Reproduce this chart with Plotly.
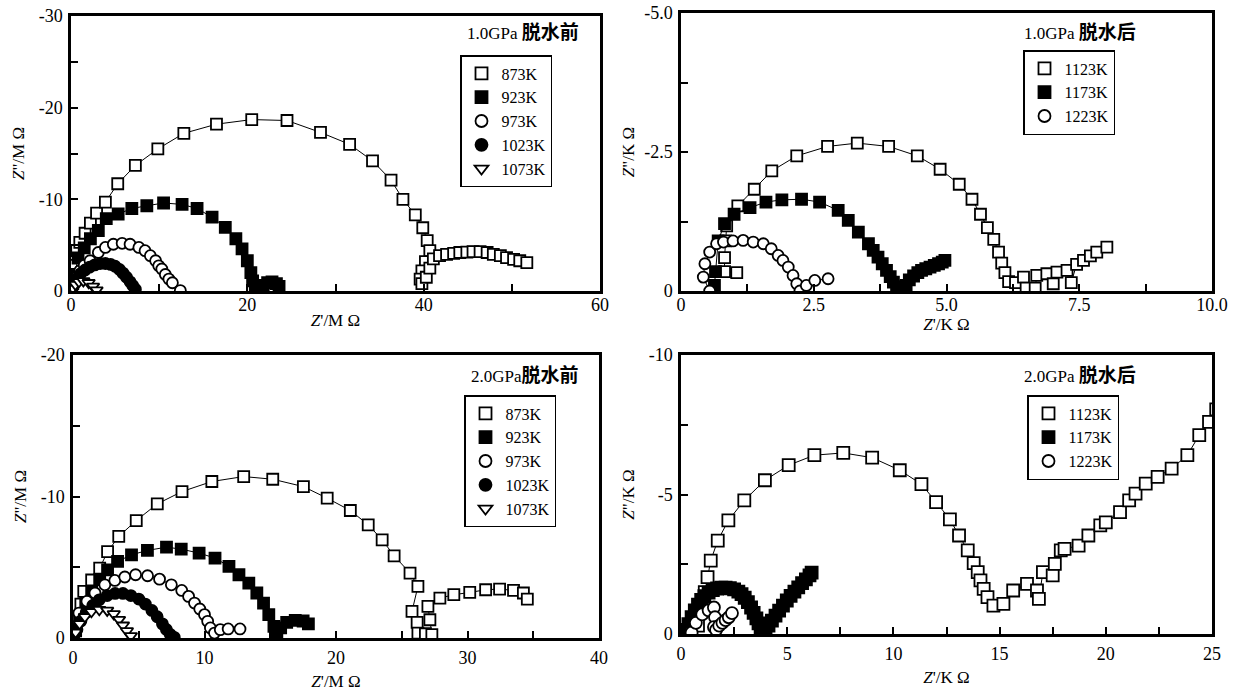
import plotly.graph_objects as go

W, H = 1233, 699
FONT = "Liberation Serif, Noto Sans CJK SC, serif"

# ---------------- Panel A: 1.0GPa 脱水前 (Z' / MΩ, Z'' / MΩ) ----------------
A873_x = [0.3, 0.4, 0.65, 1.0, 1.6, 2.2, 2.9, 3.9, 5.3, 7.3, 9.85, 12.8, 16.5, 20.5, 24.5, 28.3,
          31.6, 34.2, 36.3, 37.65, 39.05, 39.9, 40.4, 40.7, 40.2, 39.8, 39.6, 39.8, 40.3, 40.7,
          41.1, 41.8, 42.6, 43.4, 44.1, 44.9, 45.6, 46.4, 47.2, 47.9, 48.7, 49.4, 50.2, 50.9, 51.7]
A873_y = [-1.5, -2.8, -4.4, -5.3, -6.3, -7.4, -8.5, -9.7, -11.7, -13.7, -15.5, -17.2, -18.2, -18.7,
          -18.6, -17.3, -16.0, -14.2, -12.1, -10.0, -8.3, -6.9, -5.5, -4.4, -3.2, -2.2, -1.3, -0.8,
          -1.5, -2.5, -3.5, -3.85, -4.0, -4.1, -4.2, -4.25, -4.3, -4.3, -4.2, -4.0, -3.85, -3.65,
          -3.45, -3.3, -3.1]
A923_x = [0.2, 0.4, 0.8, 1.5, 2.2, 3.1, 4.0, 5.35, 6.9, 8.6, 10.5, 12.6, 14.3, 16.0, 17.5, 18.7,
          19.4, 20.0, 20.4, 20.6, 20.9, 21.3, 21.8, 22.3, 22.8, 23.3, 23.6]
A923_y = [-0.8, -1.8, -3.6, -4.7, -5.7, -6.6, -7.9, -8.4, -9.0, -9.3, -9.6, -9.45, -9.0, -8.05,
          -6.95, -5.7, -4.6, -3.3, -2.0, -1.1, -0.5, -0.3, -0.6, -0.9, -1.0, -0.8, -0.5]
A973_x = [0.15, 0.4, 0.7, 1.0, 1.5, 2.16, 3.1, 3.9, 4.8, 5.8, 6.7, 7.7, 8.4, 9.0, 9.6, 9.95,
          10.3, 10.7, 11.1, 11.5, 12.4]
A973_y = [-0.4, -1.0, -1.6, -2.2, -2.8, -3.3, -4.2, -4.75, -5.1, -5.2, -5.1, -4.75, -4.4, -3.85,
          -3.3, -2.75, -2.4, -1.8, -1.3, -0.9, -0.05]
A1023_x = [0.2, 0.4, 0.7, 1.1, 1.6, 2.1, 2.7, 3.3, 3.9, 4.5, 5.0, 5.5, 5.9, 6.3, 6.7, 7.0, 7.3]
A1023_y = [-0.4, -0.9, -1.4, -1.9, -2.3, -2.6, -2.85, -3.0, -3.0, -2.9, -2.7, -2.35, -1.95, -1.5,
           -1.0, -0.6, -0.2]
A1073_x = [0.2, 0.5, 0.9, 1.4, 2.0, 2.5, 2.9]
A1073_y = [-0.3, -0.7, -1.0, -1.1, -0.9, -0.5, -0.1]

# ---------------- Panel B: 1.0GPa 脱水后 (KΩ) ----------------
B1123_x = [1.05, 0.82, 0.82, 0.84, 0.86, 1.07, 1.38, 1.71, 2.18, 2.76, 3.32, 3.91, 4.45, 4.88,
           5.24, 5.48, 5.64, 5.77, 5.89, 5.98, 6.04, 6.1, 6.17, 6.3, 6.45, 6.5, 6.67, 6.7, 6.89,
           7.01, 7.08, 7.27, 7.35, 7.45, 7.58, 7.71, 7.83, 8.02]
B1123_y = [-0.33, -0.35, -0.6, -0.9, -1.17, -1.53, -1.83, -2.16, -2.43, -2.6, -2.66, -2.6, -2.43,
           -2.19, -1.92, -1.65, -1.38, -1.14, -0.93, -0.7, -0.5, -0.33, -0.17, -0.15, -0.25, -0.05,
           -0.05, -0.28, -0.31, -0.13, -0.34, -0.37, -0.15, -0.48, -0.55, -0.63, -0.7, -0.79]
B1173_x = [0.63, 0.65, 0.7, 0.82, 1.0, 1.3, 1.6, 1.9, 2.27, 2.61, 2.96, 3.15, 3.34, 3.53, 3.62,
           3.71, 3.79, 3.87, 3.94, 4.0, 4.06, 4.12, 4.18, 4.24, 4.3, 4.38, 4.46, 4.53, 4.61, 4.69,
           4.77, 4.85, 4.92, 4.97]
B1173_y = [-0.1, -0.35, -0.9, -1.21, -1.38, -1.5, -1.6, -1.64, -1.65, -1.6, -1.45, -1.27, -1.06,
           -0.85, -0.73, -0.61, -0.49, -0.37, -0.26, -0.16, -0.08, -0.02, 0.03, -0.1, -0.2, -0.27,
           -0.33, -0.37, -0.4, -0.43, -0.46, -0.49, -0.52, -0.55]
B1223_x = [0.54, 0.42, 0.45, 0.54, 0.67, 0.8, 0.98, 1.17, 1.36, 1.55, 1.7, 1.83, 1.92, 2.02, 2.11,
           2.18, 2.24, 2.36, 2.52, 2.77]
B1223_y = [0.0, -0.25, -0.49, -0.7, -0.85, -0.88, -0.9, -0.91, -0.88, -0.85, -0.76, -0.64, -0.55,
           -0.43, -0.28, -0.13, 0.0, -0.1, -0.19, -0.22]

# ---------------- Panel C: 2.0GPa 脱水前 (MΩ) ----------------
C873_x = [0.2, 0.4, 0.6, 0.82, 1.42, 2.03, 2.63, 3.48, 4.81, 6.41, 8.29, 10.56, 12.98, 15.19, 17.52,
          19.33, 21.09, 22.45, 23.51, 24.42, 25.63, 26.23, 25.78, 26.17, 26.23, 26.8, 27.29, 27.14,
          26.99, 27.9, 28.96, 30.17, 31.38, 32.44, 33.5, 34.25, 34.55]
C873_y = [-0.5, -1.3, -2.4, -3.3, -4.1, -4.94, -6.1, -7.18, -8.3, -9.48, -10.35, -11.06, -11.41,
          -11.22, -10.7, -9.88, -9.01, -8.0, -6.94, -5.81, -4.59, -3.65, -1.88, -1.1, -0.35, -0.3,
          -0.24, -1.29, -2.24, -2.82, -3.06, -3.22, -3.41, -3.46, -3.36, -3.18, -2.75]
C923_x = [0.2, 0.51, 0.97, 1.42, 2.03, 2.63, 3.39, 4.45, 5.66, 7.11, 8.23, 9.59, 10.8, 11.86, 12.62,
          13.37, 13.98, 14.49, 14.89, 15.28, 15.5, 15.79, 16.25, 16.9, 17.5, 17.9]
C923_y = [-0.6, -1.53, -2.47, -3.29, -4.12, -4.82, -5.41, -5.88, -6.19, -6.42, -6.28, -6.0, -5.65,
          -5.06, -4.47, -3.88, -3.18, -2.47, -1.65, -0.82, -0.35, -0.71, -1.1, -1.25, -1.2, -1.0]
C973_x = [0.15, 0.45, 1.06, 1.67, 2.42, 3.18, 3.94, 4.76, 5.67, 6.58, 7.48, 8.27, 8.79, 9.24, 9.64,
          10.0, 10.24, 10.45, 10.76, 11.2, 11.8, 12.7]
C973_y = [-0.6, -1.76, -2.59, -3.18, -3.76, -4.07, -4.31, -4.47, -4.4, -4.16, -3.76, -3.36, -2.94,
          -2.47, -2.05, -1.65, -1.18, -0.71, -0.35, -0.59, -0.64, -0.64]
C1023_x = [0.15, 0.3, 0.6, 1.0, 1.5, 2.0, 2.6, 3.2, 3.8, 4.4, 5.0, 5.5, 6.0, 6.4, 6.8, 7.1, 7.4, 7.7]
C1023_y = [-0.3, -0.6, -1.2, -1.8, -2.3, -2.7, -3.0, -3.15, -3.15, -3.0, -2.75, -2.4, -1.95, -1.5,
           -1.0, -0.6, -0.25, -0.05]
C1073_x = [0.2, 0.5, 0.9, 1.4, 2.0, 2.6, 3.1, 3.5, 3.8, 4.1, 4.4]
C1073_y = [-0.4, -1.0, -1.5, -1.85, -2.0, -1.95, -1.7, -1.3, -0.9, -0.5, -0.15]

# ---------------- Panel D: 2.0GPa 脱水后 (KΩ) ----------------
D1123_x = [0.8, 0.95, 1.05, 1.12, 1.25, 1.4, 1.73, 2.23, 2.98, 3.95, 5.07, 6.28, 7.64, 9.0, 10.3,
           11.32, 12.01, 12.66, 13.09, 13.5, 13.78, 13.97, 14.1, 14.25, 14.43, 14.71, 15.18, 15.64,
           16.29, 16.76, 16.85, 17.04, 17.5, 17.6, 17.88, 18.06, 18.72, 19.18, 19.74, 20.0, 20.67,
           21.1, 21.4, 21.88, 22.44, 23.1, 23.84, 24.4, 24.86, 25.2]
D1123_y = [-0.3, -0.8, -1.2, -1.5, -2.04, -2.63, -3.35, -4.07, -4.79, -5.51, -6.05, -6.41, -6.49,
           -6.32, -5.87, -5.37, -4.73, -4.11, -3.53, -3.0, -2.54, -2.22, -1.92, -1.62, -1.32, -1.02,
           -1.08, -1.56, -1.8, -1.56, -1.26, -2.22, -2.1, -2.51, -3.0, -3.05, -3.17, -3.53, -3.89,
           -4.0, -4.37, -4.79, -5.03, -5.39, -5.63, -5.93, -6.41, -7.13, -7.6, -8.05]
D1173_x = [0.25, 0.35, 0.5, 0.65, 0.8, 0.95, 1.1, 1.3, 1.5, 1.7, 1.9, 2.1, 2.3, 2.5, 2.7, 2.85, 3.0,
           3.15, 3.3, 3.42, 3.55, 3.65, 3.75, 3.85, 3.98, 4.12, 4.28, 4.45, 4.62, 4.8, 4.98, 5.16,
           5.34, 5.52, 5.7, 5.88, 6.05, 6.15]
D1173_y = [-0.15, -0.35, -0.6, -0.85, -1.05, -1.22, -1.36, -1.48, -1.57, -1.63, -1.66, -1.66, -1.64,
           -1.6, -1.52, -1.43, -1.3, -1.14, -0.95, -0.76, -0.56, -0.38, -0.2, -0.05, -0.12, -0.3,
           -0.48, -0.66, -0.84, -1.02, -1.2, -1.37, -1.52, -1.67, -1.82, -1.96, -2.1, -2.2]
D1223_x = [0.5, 0.7, 1.0, 1.3, 1.55, 1.6, 1.55, 1.65, 1.8, 1.95, 2.1, 2.25, 2.4]
D1223_y = [-0.05, -0.4, -0.7, -0.85, -0.95, -0.6, -0.25, -0.15, -0.3, -0.4, -0.5, -0.6, -0.75]

# ---------------- Labels ----------------
LAB_A = ["873K", "923K", "973K", "1023K", "1073K"]
LAB_B = ["1123K", "1173K", "1223K"]
CJK = '<span style="font-size:19px"><b>{}</b></span>'
TITLE_A = "1.0GPa " + CJK.format("脱水前")
TITLE_B = "1.0GPa " + CJK.format("脱水后")
TITLE_C = "2.0GPa" + CJK.format("脱水前")
TITLE_D = "2.0GPa " + CJK.format("脱水后")

STY = {
    "sq_open": dict(symbol="square", color="white"),
    "sq_fill": dict(symbol="square", color="black"),
    "ci_open": dict(symbol="circle", color="white"),
    "ci_fill": dict(symbol="circle", color="black"),
    "tri_open": dict(symbol="triangle-down", color="white"),
}
STY_A = ["sq_open", "sq_fill", "ci_open", "ci_fill", "tri_open"]
STY_B = ["sq_open", "sq_fill", "ci_open"]

fig = go.Figure()


def add_panel(idx, series, labels, styles, msize, legend_name):
    xa = "x" if idx == 1 else f"x{idx}"
    ya = "y" if idx == 1 else f"y{idx}"
    for (xs, ys), lab, st in zip(series, labels, styles):
        s = STY[st]
        fig.add_trace(go.Scatter(
            x=xs, y=ys, mode="lines+markers", xaxis=xa, yaxis=ya, showlegend=False,
            line=dict(color="black", width=1),
            marker=dict(symbol=s["symbol"], size=msize, color=s["color"],
                        line=dict(color="black", width=1.8)),
            name=lab))
    for lab, st in zip(labels, styles):
        s = STY[st]
        fig.add_trace(go.Scatter(
            x=[None], y=[None], mode="markers", xaxis=xa, yaxis=ya, name=lab,
            legend=legend_name, showlegend=True,
            marker=dict(symbol=s["symbol"], size=12, color=s["color"],
                        line=dict(color="black", width=1.8))))


add_panel(1, [(A873_x, A873_y), (A923_x, A923_y), (A973_x, A973_y), (A1023_x, A1023_y),
              (A1073_x, A1073_y)], LAB_A, STY_A, 11, "legend")
add_panel(2, [(B1123_x, B1123_y), (B1173_x, B1173_y), (B1223_x, B1223_y)], LAB_B, STY_B, 11,
          "legend2")
add_panel(3, [(C873_x, C873_y), (C923_x, C923_y), (C973_x, C973_y), (C1023_x, C1023_y),
              (C1073_x, C1073_y)], LAB_A, STY_A, 11, "legend3")
add_panel(4, [(D1123_x, D1123_y), (D1173_x, D1173_y), (D1223_x, D1223_y)], LAB_B, STY_B, 12,
          "legend4")


def px_x(a):
    return a / W


def px_y(a):
    return 1 - a / H


def xd(a, b):
    return [px_x(a), px_x(b)]


def yd(top, bot):
    return [px_y(bot), px_y(top)]


frames = {
    1: dict(x=(71, 600), y=(16, 291)),
    2: dict(x=(681, 1212), y=(13, 291)),
    3: dict(x=(73, 599), y=(355, 638)),
    4: dict(x=(681, 1212), y=(355, 634)),
}

axis_common = dict(showline=True, linecolor="black", linewidth=2.5, mirror=True, ticks="inside",
                   ticklen=7, tickwidth=1.5, tickcolor="black", showgrid=False, zeroline=False,
                   automargin=False, ticklabeloverflow="allow",
                   tickfont=dict(family=FONT, size=18, color="black"),
                   title_font=dict(family=FONT, size=17, color="black"))

xspec = {
    1: dict(range=[0, 60], tickvals=[0, 20, 40, 60], ticktext=["0", "20", "40", "60"],
            minor_vals=[10, 30, 50], title="<i>Z</i>'/M Ω", standoff=0, tls=-4),
    2: dict(range=[0, 10], tickvals=[0, 2.5, 5, 7.5, 10], ticktext=["0", "2.5", "5.0", "7.5", "10.0"],
            minor_vals=[1.25, 3.75, 6.25, 8.75], title="<i>Z</i>'/K Ω", standoff=0, tls=-4),
    3: dict(range=[0, 40], tickvals=[0, 10, 20, 30, 40], ticktext=["0", "10", "20", "30", "40"],
            minor_vals=[5, 15, 25, 35], title="<i>Z</i>'/M Ω", standoff=8, tls=2),
    4: dict(range=[0, 25], tickvals=[0, 5, 10, 15, 20, 25], ticktext=["0", "5", "10", "15", "20", "25"],
            minor_vals=[2.5, 7.5, 12.5, 17.5, 22.5], title="<i>Z</i>'/K Ω", standoff=8, tls=2),
}
yspec = {
    1: dict(range=[0, -30], tickvals=[0, -10, -20, -30], ticktext=["0", "-10", "-20", "-30"],
            minor_vals=[-5, -15, -25], title="<i>Z</i>\"/M Ω", standoff=10),
    2: dict(range=[0, -5], tickvals=[0, -2.5, -5], ticktext=["0", "-2.5", "-5.0"],
            minor_vals=[-1.25, -3.75], title="<i>Z</i>\"/K Ω", standoff=6),
    3: dict(range=[0, -20], tickvals=[0, -10, -20], ticktext=["0", "-10", "-20"],
            minor_vals=[-5, -15], title="<i>Z</i>\"/M Ω", standoff=10),
    4: dict(range=[0, -10], tickvals=[0, -5, -10], ticktext=["0", "-5", "-10"],
            minor_vals=[-2.5, -7.5], title="<i>Z</i>\"/K Ω", standoff=10),
}

layout = dict(template="none", width=W, height=H, margin=dict(l=0, r=0, t=0, b=0),
              paper_bgcolor="white", plot_bgcolor="white", font=dict(family=FONT, color="black"))
for i in range(1, 5):
    xk = "xaxis" if i == 1 else f"xaxis{i}"
    yk = "yaxis" if i == 1 else f"yaxis{i}"
    xs, ys = xspec[i], yspec[i]
    ax = dict(axis_common)
    ax.update(domain=xd(*frames[i]["x"]), range=xs["range"], tickvals=xs["tickvals"],
              ticktext=xs["ticktext"], anchor="y" if i == 1 else f"y{i}",
              minor=dict(tickvals=xs["minor_vals"], ticks="inside", ticklen=7, tickwidth=1.5,
                         tickcolor="black"),
              title=dict(text=xs["title"], standoff=xs["standoff"]), ticklabelstandoff=xs["tls"])
    ay = dict(axis_common)
    ay.update(domain=yd(*frames[i]["y"]), range=ys["range"], tickvals=ys["tickvals"],
              ticktext=ys["ticktext"], anchor="x" if i == 1 else f"x{i}",
              minor=dict(tickvals=ys["minor_vals"], ticks="inside", ticklen=7, tickwidth=1.5,
                         tickcolor="black"),
              title=dict(text=ys["title"], standoff=ys["standoff"]), ticklabelstandoff=2)
    layout[xk] = ax
    layout[yk] = ay

leg_pos = {"legend": (460, 55), "legend2": (1023, 50), "legend3": (464, 395), "legend4": (1027, 395)}
for name, (px, py) in leg_pos.items():
    layout[name] = dict(x=px_x(px), y=px_y(py), xanchor="left", yanchor="top",
                        bordercolor="black", borderwidth=1.5, bgcolor="white",
                        font=dict(family=FONT, size=16, color="black"),
                        itemsizing="trace", tracegroupgap=0)

titles = [(TITLE_A, 581, 33), (TITLE_B, 1138, 33), (TITLE_C, 581, 375), (TITLE_D, 1138, 375)]
layout["annotations"] = [
    dict(text=t, x=px_x(px), y=px_y(py), xref="paper", yref="paper", xanchor="right",
         yanchor="middle", showarrow=False, font=dict(family=FONT, size=17, color="black"))
    for t, px, py in titles
]

fig.update_layout(**layout)
# remove the default page margin so the figure fills the 1233x699 window exactly
fig.write_html("out.html", config={"displayModeBar": False},
               post_script="document.body.style.margin='0';document.body.style.overflow='hidden';")
